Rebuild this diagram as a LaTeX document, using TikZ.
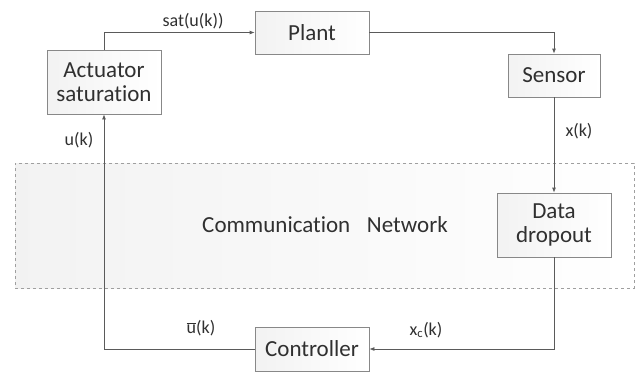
\documentclass[tikz,border=0pt]{standalone}
\usepackage{fontspec}
\setmainfont{Carlito}[Ligatures=NoCommon]
\usetikzlibrary{arrows.meta}
\definecolor{linegray}{HTML}{5A5A5A}
\definecolor{txtgray}{HTML}{303030}
\definecolor{boxedge}{HTML}{888888}
\begin{document}
\begin{tikzpicture}[x=1pt,y=-1pt,
  blockbox/.style={draw=boxedge, line width=0.8pt, left color=gray!10, right color=white, minimum height=#1, inner sep=0pt, align=center, text=txtgray, font=\fontsize{23}{25}\selectfont},
  blockbox/.default=43pt,
  conn/.style={draw=linegray, line width=0.8pt, -{Latex[length=5pt,width=4pt]}},
  sig/.style={text=txtgray, font=\fontsize{18}{20}\selectfont, inner sep=1pt}]
\useasboundingbox (0,0) rectangle (637,376);
% network region
\node[draw=gray!75, dashed, line width=0.8pt, left color=gray!10, right color=white, minimum width=619pt, minimum height=125pt, inner sep=0pt] (net) at (324.5,225.5) {};
\node[text=txtgray, font=\fontsize{23}{25}\selectfont] (netlabel) at (325,225) {Communication\hspace{0.5em} Network};
% blocks
\node[blockbox=64pt, minimum width=114pt] (act) at (104,82) {Actuator\\[-1pt]saturation};
\node[blockbox, minimum width=114pt] (plant) at (312,32.5) {Plant};
\node[blockbox, minimum width=92pt] (sensor) at (554,75.5) {Sensor};
\node[blockbox=64pt, minimum width=114pt] (drop) at (554,225) {Data\\[-1pt]dropout};
\node[blockbox=44pt, minimum width=114pt] (ctrl) at (312,349) {Controller};
% coordinates
\coordinate (c1) at (104,32.5);
\coordinate (c2) at (554,32.5);
\coordinate (c3) at (554,349);
\coordinate (c4) at (104,349);
% connectors
\draw[conn] (act.north) -- (c1) -- (plant.west);
\draw[conn] (plant.east) -- (c2) -- (sensor.north);
\draw[conn] (sensor.south) -- (drop.north);
\draw[conn] (drop.south) -- (c3) -- (ctrl.east);
\draw[conn] (ctrl.west) -- (c4) -- (act.south);
% labels
\node[sig] (l1) at (193,21) {sat(u(k))};
\node[sig] (l2) at (79,140) {u(k)};
\node[sig] (l3) at (579,131) {x(k)};
\node[sig] (l4) at (201,328) {$\overline{\mbox{u}}$(k)};
\node[sig] (l5) at (426,330) {x\textsubscript{c}(k)};
\end{tikzpicture}
\end{document}
